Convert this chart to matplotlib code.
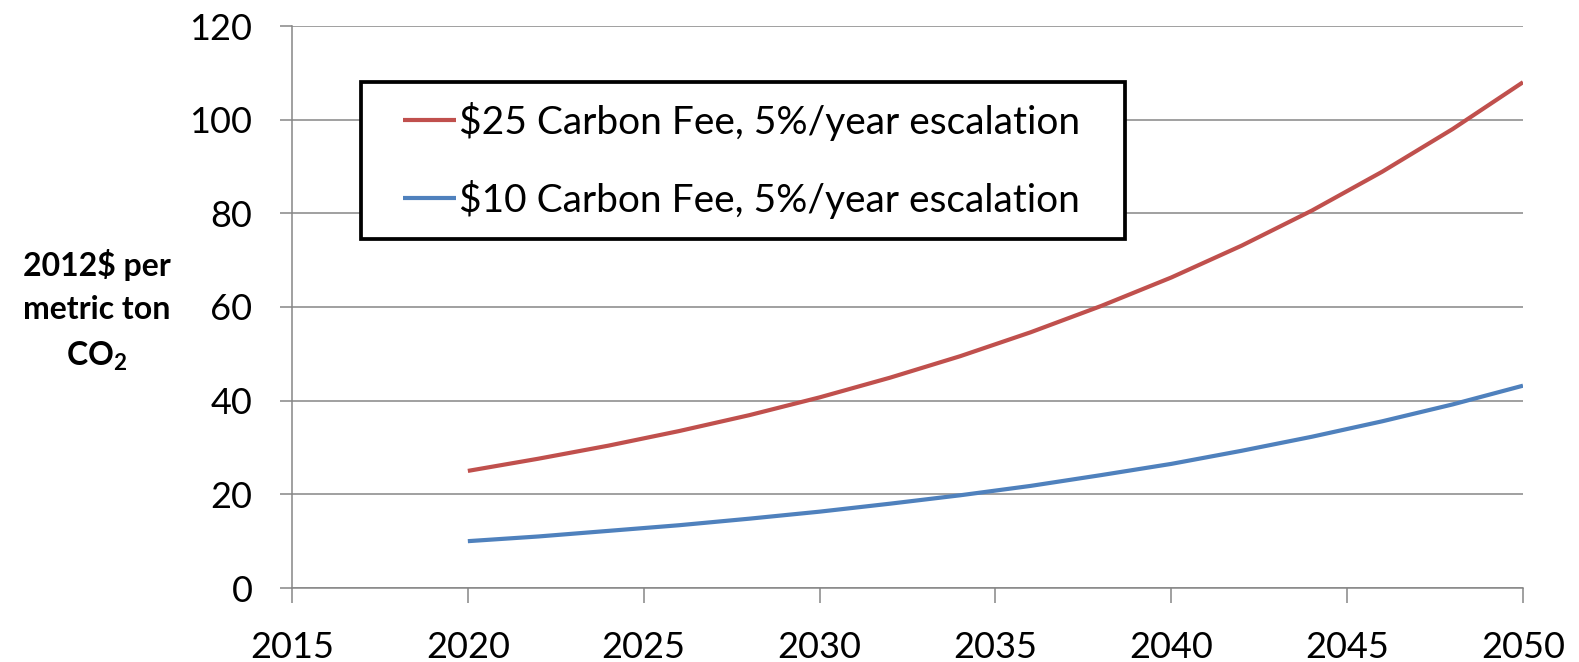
import matplotlib
matplotlib.use("Agg")
import matplotlib.pyplot as plt
from matplotlib.legend_handler import HandlerLine2D

plt.rcParams["font.family"] = ["Lato", "DejaVu Sans"]
plt.rcParams["mathtext.fontset"] = "custom"
plt.rcParams["mathtext.rm"] = "Lato"
plt.rcParams["mathtext.bf"] = "Lato:bold"

YEARS = [2020, 2022, 2024, 2026, 2028, 2030, 2032, 2034, 2036, 2038,
         2040, 2042, 2044, 2046, 2048, 2050]
FEE_25 = [25.0, 27.6, 30.4, 33.5, 36.9, 40.7, 44.9, 49.5, 54.6, 60.2,
          66.3, 73.1, 80.6, 88.9, 98.0, 108.0]
FEE_10 = [10.0, 11.0, 12.2, 13.4, 14.8, 16.3, 18.0, 19.8, 21.8, 24.1,
          26.5, 29.3, 32.3, 35.6, 39.2, 43.2]
LABEL_25 = "$25 Carbon Fee, 5%/year escalation"
LABEL_10 = "$10 Carbon Fee, 5%/year escalation"
X_TICKS = [2015, 2020, 2025, 2030, 2035, 2040, 2045, 2050]
Y_TICKS = [0, 20, 40, 60, 80, 100, 120]

RED = "#C0504D"
BLUE = "#4F81BD"
GRID = "#868686"

W, H = 1579, 662
fig = plt.figure(figsize=(W / 100, H / 100), dpi=100)
ax = fig.add_axes([292 / W, 1 - 588 / H, (1523 - 292) / W, (588 - 26) / H])

l1, = ax.plot(YEARS, FEE_25, color=RED, lw=3, solid_capstyle="butt", label=LABEL_25.replace("$", r"\$"))
l2, = ax.plot(YEARS, FEE_10, color=BLUE, lw=3, solid_capstyle="butt", label=LABEL_10.replace("$", r"\$"))

ax.set_xlim(2015, 2050)
ax.set_ylim(0, 120)
ax.set_xticks(X_TICKS)
ax.set_yticks(Y_TICKS)
ax.grid(axis="y", color=GRID, lw=1.1)
ax.set_axisbelow(True)
for s in ["top", "right"]:
    ax.spines[s].set_visible(False)
for s in ["left", "bottom"]:
    ax.spines[s].set_color(GRID)
    ax.spines[s].set_linewidth(1.1)
ax.tick_params(axis="y", direction="out", length=8.5, width=1.1, color=GRID,
               labelsize=26, pad=20)
ax.tick_params(axis="x", direction="out", length=11, width=1.1, color=GRID,
               labelsize=26, pad=20)

# legend box spans x 361..1125 px, top at 82 px
leg = ax.legend(handles=[l1, l2], loc="upper left", mode="expand",
                bbox_to_anchor=(361 / W, 1 - 241 / H, (1125 - 361) / W, (241 - 82) / H),
                bbox_transform=fig.transFigure,
                handler_map={l1: HandlerLine2D(xpad=0.56), l2: HandlerLine2D(xpad=0.56)},
                fontsize=28, frameon=True, fancybox=False,
                handlelength=1.92, handletextpad=0.1, labelspacing=1.0,
                borderpad=0.51, borderaxespad=0)
frame = leg.get_frame()
frame.set_edgecolor("black")
frame.set_linewidth(2.7)
frame.set_facecolor("white")
frame.set_alpha(1)

fig.text(97 / W, 1 - 311 / H, "2012$ per\nmetric ton\nCO$_\\mathbf{2}$",
         ha="center", va="center", fontsize=23, fontweight="bold",
         linespacing=1.6)

fig.savefig("out.png", dpi=100)
